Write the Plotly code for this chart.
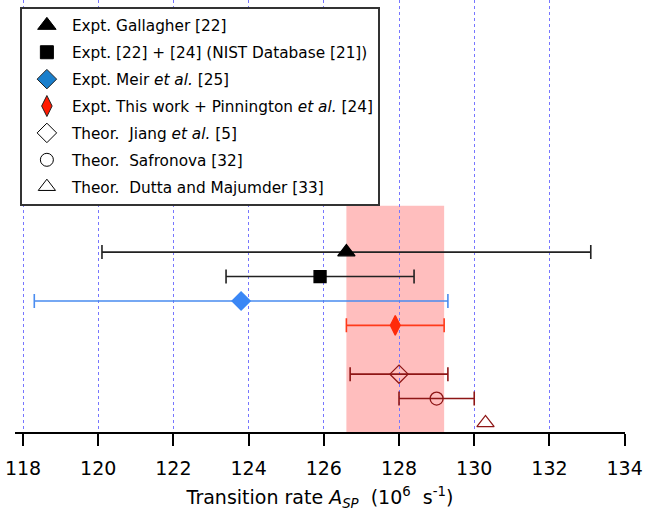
import plotly.graph_objects as go

# ---- data ----
labels = [
    "Expt. Gallagher [22]",
    "Expt. [22] + [24] (NIST Database [21])",
    "Expt. Meir <i>et al.</i> [25]",
    "Expt. This work + Pinnington <i>et al.</i> [24]",
    "Theor.\u00a0\u00a0Jiang <i>et al.</i> [5]",
    "Theor.\u00a0\u00a0Safronova [32]",
    "Theor.\u00a0\u00a0Dutta and Majumder [33]",
]
rates = [126.6, 125.9, 123.8, 127.9, 128.0, 129.0, 130.3]
errors = [6.5, 2.5, 5.5, 1.3, 1.3, 1.0, 0.0]
rows = [8, 7, 6, 5, 3, 2, 1]
band_low, band_high = 126.6, 129.2
tick_vals = [118, 120, 122, 124, 126, 128, 130, 132, 134]

# ---- styles ----
plot_symbols = ["triangle-up", "square", "diamond", "diamond-tall",
                "diamond-open", "circle-open", "triangle-up-open"]
plot_sizes = [15, 12, 14, 14, 14, 13, 15]
plot_colors = ["black", "black", "#3b87f5", "#ff2a0a", "#8e1616", "#8e1616", "#8e1616"]
err_colors = ["#222222", "#222222", "#4a8cf0", "#ff3a1a", "#8e1616", "#8e1616", "#8e1616"]
leg_colors = ["black", "black", "#1a7fcc", "#ff1a00", "black", "black", "black"]
leg_sizes = [16, 13, 15, 15, 15, 13, 15]

FONT = "DejaVu Sans"
YLO, YHI = 0.63, 18.33

fig = go.Figure()

fig.add_shape(type="rect", xref="x", yref="y", x0=band_low, x1=band_high,
              y0=YLO, y1=9.9, fillcolor="rgb(255,190,190)", line_width=0,
              layer="below")

for i in range(len(labels)):
    has_err = errors[i] > 0
    fig.add_trace(go.Scatter(
        x=[rates[i]], y=[rows[i]], mode="markers", showlegend=False,
        marker=dict(symbol=plot_symbols[i], size=plot_sizes[i],
                    color=plot_colors[i], line=dict(width=1.3, color=plot_colors[i])),
        error_x=dict(type="data", array=[errors[i]], visible=has_err,
                     color=err_colors[i], thickness=1.6, width=7),
    ))

for i in range(len(labels)):
    lc = "#222222" if i in (2, 3) else leg_colors[i]
    fig.add_trace(go.Scatter(
        x=[None], y=[None], mode="markers", name=labels[i],
        legendgroup="g%d" % i,
        marker=dict(symbol=plot_symbols[i], size=leg_sizes[i],
                    color=leg_colors[i], line=dict(width=1, color=lc)),
    ))

fig.update_layout(
    width=646, height=517,
    margin=dict(l=15, r=21, t=0, b=85, autoexpand=False),
    paper_bgcolor="white", plot_bgcolor="white",
    font=dict(family=FONT, size=19, color="black"),
    showlegend=True,
    legend=dict(x=0.008, y=0.984, xanchor="left", yanchor="top",
                bgcolor="white", bordercolor="#333333", borderwidth=2,
                font=dict(family=FONT, size=15.3), itemwidth=40,
                tracegroupgap=4),
    xaxis=dict(range=[117.787, 134.01], tickvals=tick_vals, automargin=False,
               showgrid=True, gridcolor="#7676ff", gridwidth=1, griddash="dot",
               showline=True, linecolor="black", linewidth=2,
               ticks="outside", ticklen=12, tickwidth=2, tickcolor="black",
               ticklabelstandoff=6,
               tickfont=dict(family=FONT, size=19), zeroline=False,
               title=dict(text="Transition rate <i>A</i><sub><i>SP</i></sub>\u00a0\u00a0(10<sup>6</sup>\u00a0\u00a0s<sup>-1</sup>)",
                          font=dict(family=FONT, size=19), standoff=13)),
    yaxis=dict(range=[YLO, YHI], visible=False, showgrid=False, zeroline=False),
)

fig.write_html("out.html", config={"displayModeBar": False},
               post_script="document.body.style.margin='0px';")
